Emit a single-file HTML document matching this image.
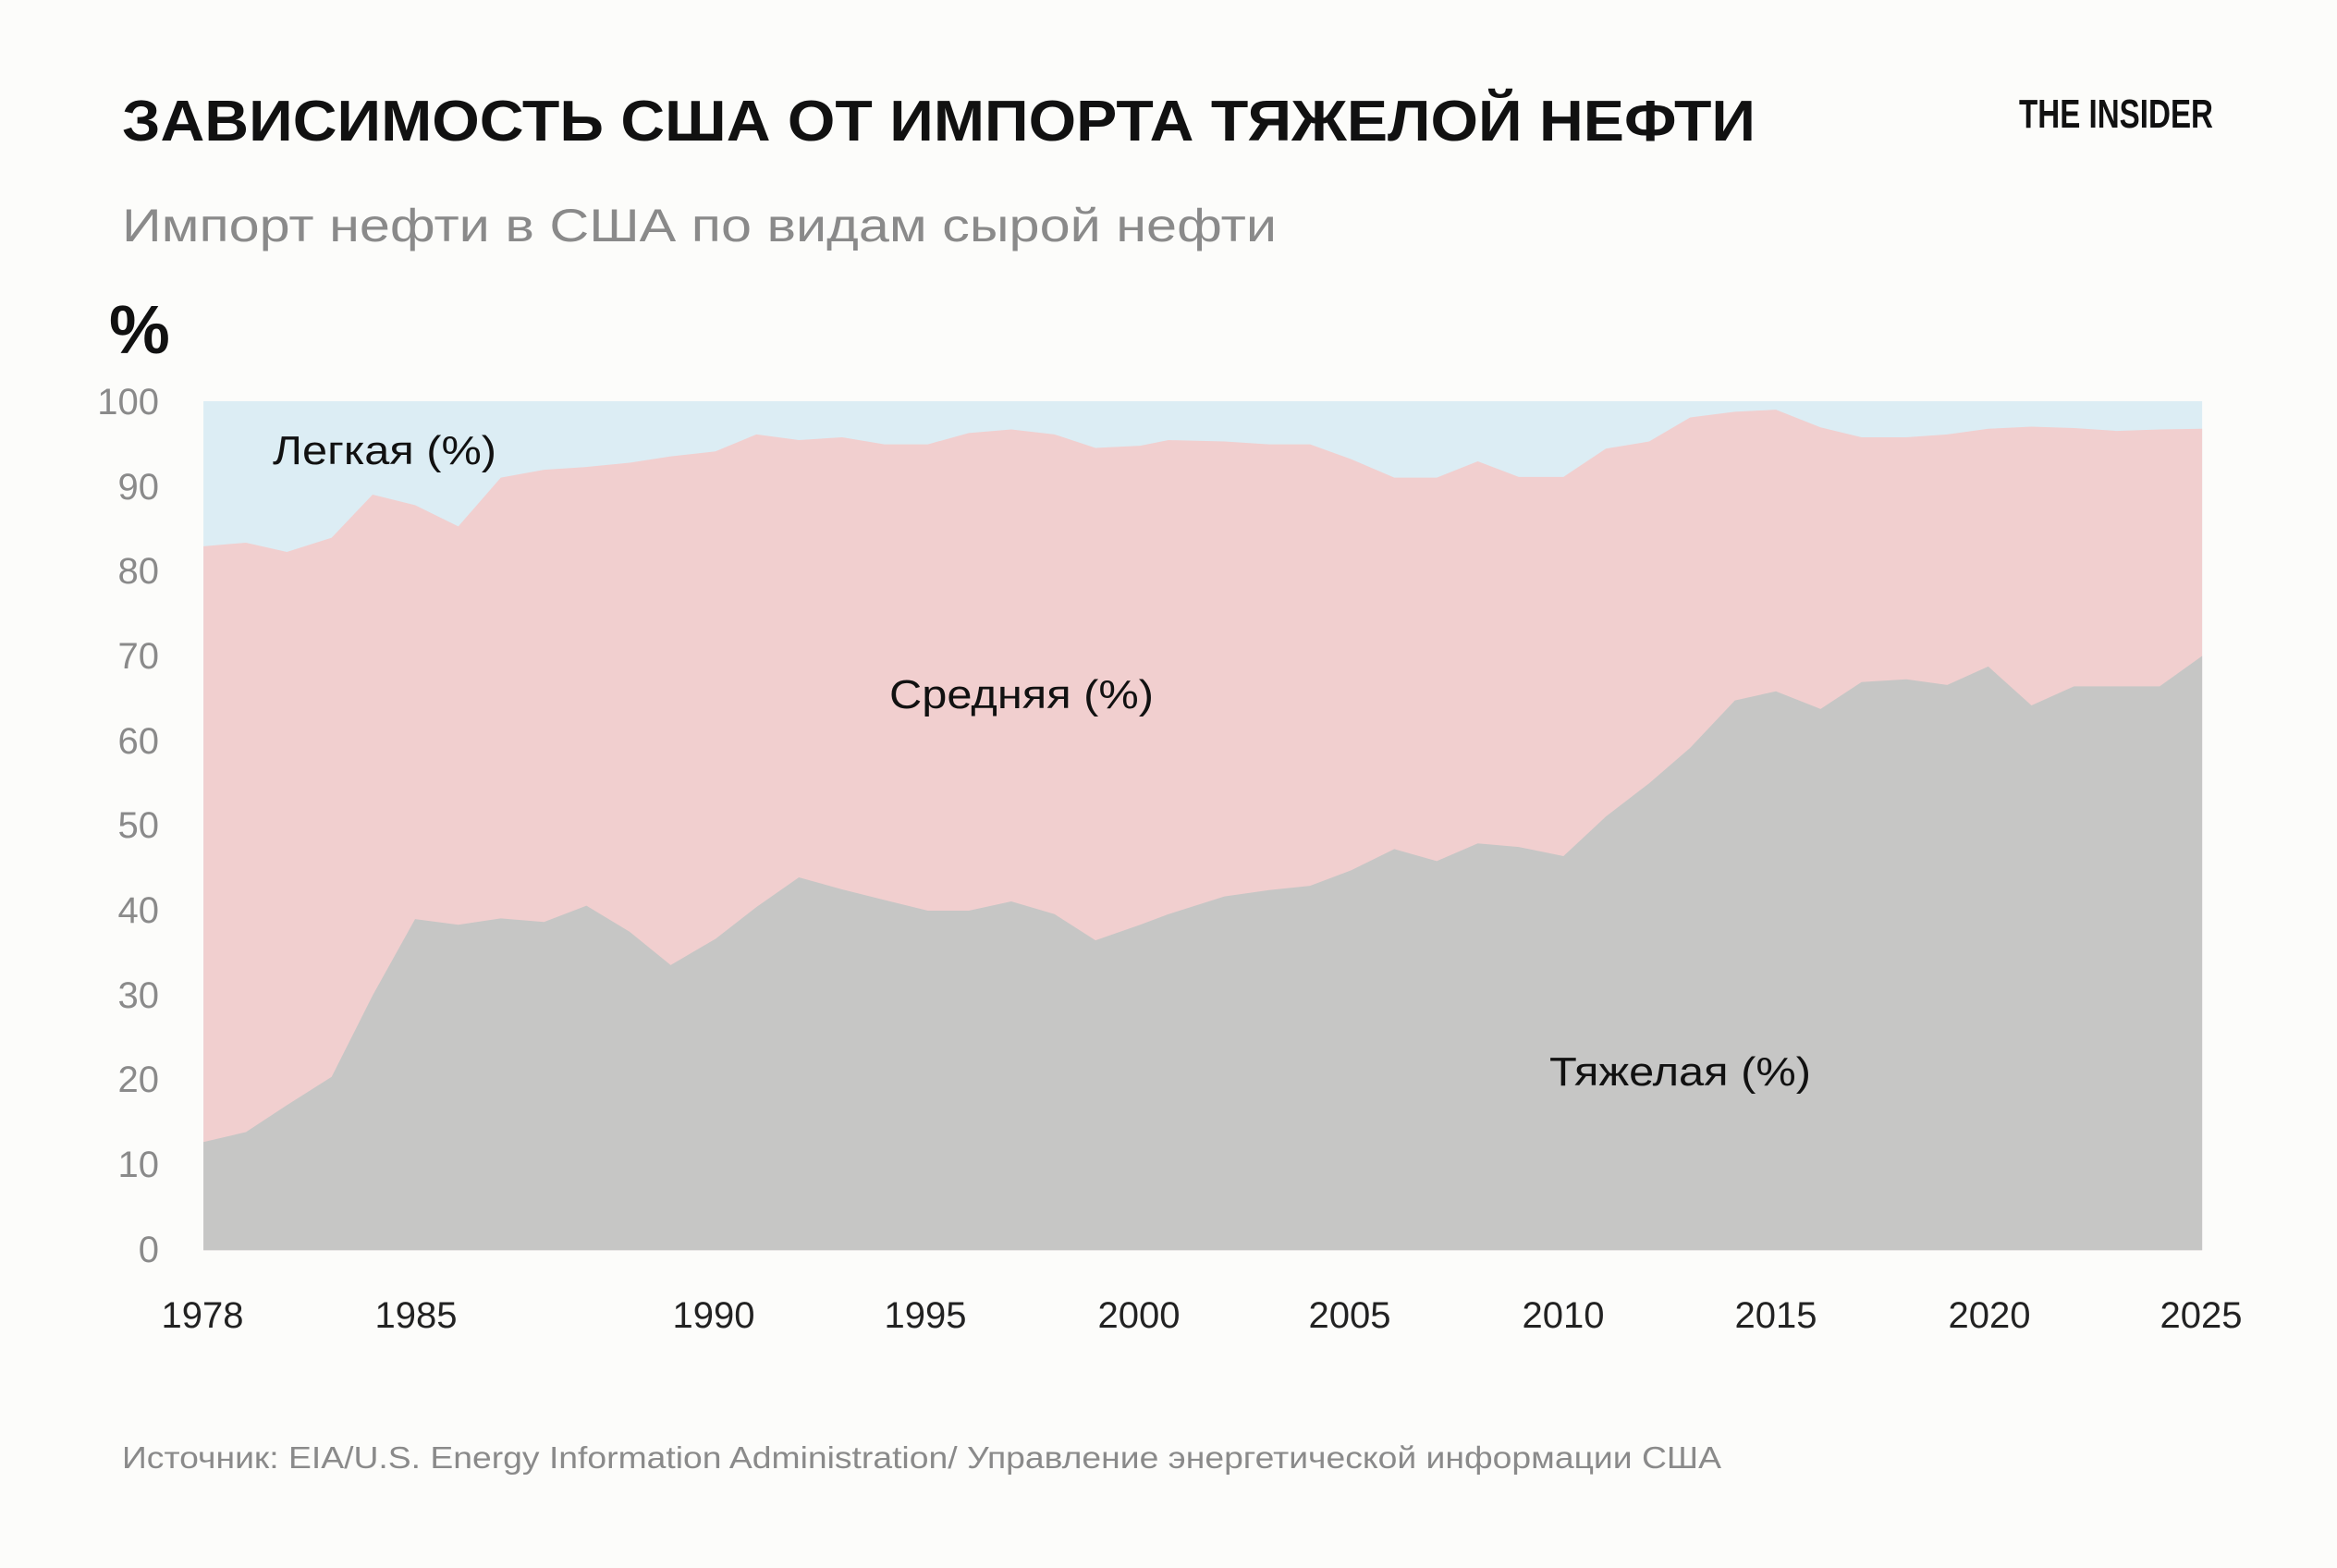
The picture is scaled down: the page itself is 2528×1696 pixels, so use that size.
<!DOCTYPE html>
<html><head><meta charset="utf-8"><style>
html,body{margin:0;padding:0;background:#fcfcfa;}
svg{display:block;}
</style></head><body>
<svg width="2528" height="1696" viewBox="0 0 2528 1696" xmlns="http://www.w3.org/2000/svg">
<rect width="2528" height="1696" fill="#fcfcfa"/>
<text x="132" y="152" font-family="Liberation Sans, sans-serif" font-weight="bold" font-size="62" fill="#111" textLength="1767" lengthAdjust="spacingAndGlyphs">ЗАВИСИМОСТЬ США ОТ ИМПОРТА ТЯЖЕЛОЙ НЕФТИ</text>
<text x="2184" y="138" font-family="Liberation Sans, sans-serif" font-weight="bold" font-size="44" fill="#111" textLength="210" lengthAdjust="spacingAndGlyphs">THE INSIDER</text>
<text x="132" y="261" font-family="Liberation Sans, sans-serif" font-size="50" fill="#8a8a8a" textLength="1249" lengthAdjust="spacingAndGlyphs">Импорт нефти в США по видам сырой нефти</text>
<text x="118" y="382" font-family="Liberation Sans, sans-serif" font-weight="bold" font-size="74" fill="#111">%</text>
<g transform="translate(0,300) scale(0.80613,0.76531)">
<rect x="273" y="175" width="2682" height="1200" fill="#dcedf4"/>
<polygon fill="#f1cfcf" points="273,380 330,375 385,388 445,368 500,307 557,322 615,352 672,283 730,272 787,268 845,262 900,253 960,246 1015,222 1072,230 1130,226 1187,236 1245,236 1300,220 1357,215 1415,222 1470,241 1530,238 1568,230 1643,232 1703,236 1758,236 1813,257 1871,283 1928,283 1983,260 2038,282 2098,282 2155,242 2213,232 2268,198 2328,190 2383,187 2443,212 2498,226 2558,226 2613,222 2668,214 2726,211 2783,213 2840,217 2898,215 2955,214 2955,1375 273,1375"/>
<polygon fill="#c6c6c5" points="273,1222 330,1208 385,1170 445,1130 500,1015 557,907 615,915 672,906 730,911 787,888 845,925 900,972 960,935 1015,890 1072,848 1130,865 1187,880 1245,895 1300,895 1357,882 1415,900 1470,937 1530,915 1568,900 1643,875 1703,866 1758,860 1813,838 1871,808 1928,825 1983,800 2038,805 2098,818 2155,762 2213,715 2268,665 2328,598 2383,585 2443,610 2498,572 2558,568 2613,576 2668,550 2726,605 2783,578 2840,578 2898,578 2955,535 2955,1375 273,1375"/>
</g>
<g font-family="Liberation Sans, sans-serif" font-size="40" fill="#8a8a8a" text-anchor="end">
<text x="172" y="448">100</text><text x="172" y="540">90</text><text x="172" y="631">80</text><text x="172" y="723">70</text><text x="172" y="815">60</text><text x="172" y="906">50</text><text x="172" y="998">40</text><text x="172" y="1090">30</text><text x="172" y="1181">20</text><text x="172" y="1273">10</text><text x="172" y="1365">0</text>
</g>
<g font-family="Liberation Sans, sans-serif" font-size="40" fill="#222" text-anchor="middle">
<text x="219" y="1436">1978</text><text x="450" y="1436">1985</text><text x="772" y="1436">1990</text><text x="1001" y="1436">1995</text><text x="1232" y="1436">2000</text><text x="1460" y="1436">2005</text><text x="1691" y="1436">2010</text><text x="1921" y="1436">2015</text><text x="2152" y="1436">2020</text><text x="2381" y="1436">2025</text>
</g>
<g font-family="Liberation Sans, sans-serif" font-size="44" fill="#111">
<text x="295" y="502" textLength="242" lengthAdjust="spacingAndGlyphs">Легкая (%)</text>
<text x="962" y="766" textLength="286" lengthAdjust="spacingAndGlyphs">Средняя (%)</text>
<text x="1676" y="1174" textLength="283" lengthAdjust="spacingAndGlyphs">Тяжелая (%)</text>
</g>
<text x="132" y="1588" font-family="Liberation Sans, sans-serif" font-size="33" fill="#8a8a8a" textLength="1730" lengthAdjust="spacingAndGlyphs">Источник: EIA/U.S. Energy Information Administration/ Управление энергетической информации США</text>
</svg>
</body></html>
